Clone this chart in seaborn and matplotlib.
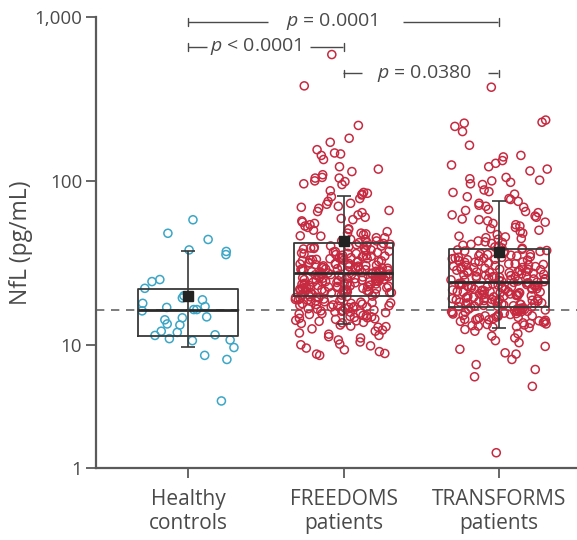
import numpy as np
import pandas as pd
import matplotlib
matplotlib.use("Agg")
import matplotlib.pyplot as plt
import matplotlib.ticker as mticker
import seaborn as sns

# ---------------- data ----------------
groups = ["Healthy controls", "FREEDOMS patients", "TRANSFORMS patients"]
tick_labels = ["Healthy\ncontrols", "FREEDOMS\npatients", "TRANSFORMS\npatients"]

healthy = [57.9, 43.9, 47.9, 37.9, 35.5, 37.1, 24.3, 25.0, 22.1, 19.3, 17.9, 19.9,
           18.8, 16.9, 17.1, 16.4, 16.1, 16.4, 14.2, 13.2, 13.4, 14.8, 14.6, 11.4,
           10.6, 11.5, 10.9, 12.1, 11.9, 10.7, 9.5, 8.2, 7.6, 3.5]

freedoms = [590, 380, 218, 182, 172, 155, 148, 146, 143, 135, 122, 118, 114, 109,
            105, 104, 104, 100, 99, 96, 95,
            87, 85, 84, 83, 82, 80, 78, 75, 73, 72, 70, 69,
            68, 66, 65, 64, 62, 60, 59, 58, 57, 56, 55, 54, 53, 52,
            51, 50, 49, 48, 48, 47, 46, 45, 45, 44, 43, 43, 42, 42,
            41.5, 40.8, 40.1, 39.6, 39.4, 38.7, 38.1, 37.9, 37.2, 36.6, 36.1, 35.9,
            35.2, 34.8, 34.7, 34.1, 33.8, 33.2, 33.0, 32.6, 32.5, 31.9, 31.7, 31.3,
            31.1, 30.9, 30.4, 30.2, 30.0, 29.8, 29.7, 29.3, 29.1, 28.9, 28.8, 28.5,
            28.4, 28.2, 28.1, 27.9, 27.8, 27.6, 27.5, 27.4, 36.3, 32.2, 29.5, 40.4,
            38.9, 34.4, 30.6, 28.7, 33.5, 37.5, 31.5, 29.0, 35.5, 27.7, 32.9, 28.3,
            27.2, 27.0, 26.8, 26.7, 26.5, 26.3, 26.1, 25.9, 25.8, 25.5, 25.4, 25.2,
            25.0, 24.9, 24.7, 24.5, 24.3, 24.2, 24.0, 23.8, 23.7, 23.5, 23.3, 23.1,
            23.0, 22.8, 22.6, 22.5, 22.3, 22.1, 21.9, 21.8, 21.6, 21.4, 21.3, 21.1,
            20.9, 20.8, 20.6, 20.5, 20.3, 20.1, 20.0, 26.0, 24.6, 23.4, 22.0, 21.0,
            25.6, 24.1, 22.7, 21.5, 26.9, 23.9, 20.7, 25.3, 22.4, 21.7,
            19.8, 19.6, 19.5, 19.3, 19.1, 18.9, 18.8, 18.6, 18.4, 18.2, 18.1, 17.9,
            17.7, 17.5, 17.4, 17.2, 17.0, 16.8, 16.6, 16.5, 16.3, 16.1, 15.9, 15.7,
            15.5, 15.3, 15.1, 14.9, 14.7, 14.5, 14.3, 14.1, 13.9, 13.7, 13.5, 19.0,
            18.0, 17.3, 16.0, 15.0, 14.0,
            13.2, 12.8, 12.5, 12.1, 11.8, 11.4, 11.0, 10.7, 10.4, 10.1, 9.8, 9.4,
            9.1, 8.8, 8.5, 8.4, 8.2, 12.3, 11.2, 10.0,
            # dense core (overlapping circles inside and just around the box)
            39.1, 37.0, 35.0, 33.9, 32.8, 31.0, 30.3, 29.4, 28.6, 27.3, 26.4, 25.7,
            25.1, 24.4, 23.6, 22.9, 22.2, 21.2, 20.4, 19.7, 18.7, 17.8, 17.1, 16.2,
            15.6, 14.8, 41.0, 38.4, 36.0, 34.0, 32.4, 30.7, 29.9, 28.0, 26.6, 25.4,
            24.8, 23.2, 22.4, 21.5, 20.2, 19.4, 18.5, 17.6, 16.7, 15.8, 14.4, 13.6,
            40.0, 36.8, 33.6, 31.4, 29.2, 27.1, 26.2, 24.2, 23.0, 21.6, 20.8, 19.2,
            18.3, 17.0, 15.4, 14.6, 44.0, 47.5, 50.5, 12.9, 11.6, 13.0, 46.2, 16.9]

transforms = [373, 235, 228, 225, 215, 200, 165, 143, 140, 133, 128, 125, 122, 118,
              115, 105, 103, 101, 100, 98, 96, 95,
              88, 86, 85, 83, 80, 78, 77,
              75, 73, 71, 69, 67, 66, 64, 62, 60, 58, 57, 56,
              55, 53, 51, 50, 49, 47, 46, 45, 44, 43, 42, 41, 40, 39,
              54, 48, 44.5, 41.5, 39.5, 61, 70,
              38.2, 37.6, 37.1, 36.4, 35.9, 35.2, 34.8, 34.1, 33.7, 33.2, 32.6, 32.3,
              31.8, 31.2, 30.9, 30.5, 30.1, 29.6, 29.3, 28.9, 28.5, 28.2, 27.9, 27.5,
              27.3, 26.9, 26.6, 26.4, 26.1, 25.8, 25.5, 25.3, 25.0, 24.8, 24.5, 24.3,
              24.1, 36.8, 33.5, 30.7, 28.7, 27.1, 25.9, 35.5, 32.0, 29.0, 26.3, 24.7,
              37.9, 34.4, 31.5, 29.8, 27.7, 25.2, 33.0, 28.0,
              23.9, 23.7, 23.5, 23.3, 23.1, 22.9, 22.7, 22.5, 22.3, 22.1, 21.9, 21.7,
              21.5, 21.3, 21.1, 20.9, 20.7, 20.5, 20.3, 20.1, 19.9, 19.7, 19.5, 19.3,
              19.1, 18.9, 18.7, 18.5, 18.3, 18.1, 17.9, 17.7, 17.5, 17.3, 17.1, 17.0,
              23.6, 22.2, 21.0, 19.8, 18.6, 17.6, 22.8, 20.4, 18.8, 23.0, 21.6, 20.0,
              19.0, 17.8, 22.4, 20.6, 18.0, 17.2, 21.2, 19.4, 23.4, 18.4,
              16.8, 16.6, 16.4, 16.2, 16.0, 15.8, 15.6, 15.4, 15.2, 15.0, 14.8, 14.6,
              14.4, 14.2, 14.0, 13.8, 13.6, 13.4, 13.2, 13.0, 12.8, 16.7, 16.1, 15.5,
              14.9, 14.3, 13.7, 13.1, 16.3, 15.1, 14.1, 13.3, 12.7, 15.9, 14.5,
              12.1, 11.7, 11.0, 10.6, 10.3, 9.7, 9.2, 8.6, 8.4, 7.6, 6.9, 6.3, 5.5,
              4.6, 1.33,
              # dense core (overlapping circles inside and just around the box)
              37.3, 35.7, 34.2, 32.9, 31.1, 30.0, 28.8, 27.6, 26.7, 25.6, 24.9, 24.0,
              23.2, 22.6, 21.8, 21.1, 20.2, 19.6, 18.9, 18.2, 17.4, 16.9, 16.4, 15.7,
              15.3, 14.7, 36.1, 33.8, 31.9, 29.5, 27.8, 26.2, 25.1, 23.8, 22.0, 20.8,
              19.2, 18.0, 17.2, 16.5, 15.9, 14.2, 13.5, 38.8, 34.9, 30.4, 28.3, 26.0,
              24.4, 22.9, 21.4, 20.0, 18.6, 17.7, 16.0, 15.0, 13.9, 12.9, 42.5, 45.5,
              40.5, 12.4, 11.3, 52.0, 58.5, 65.0]

# box statistics: q1, median, q3, lower/upper whisker, mean
box_q1 = [11.3, 19.9, 16.9]
box_med = [16.3, 27.3, 24.0]
box_q3 = [21.9, 41.9, 38.5]
whisk_lo = [9.6, 13.4, 12.6]
whisk_hi = [37.4, 80.7, 75.3]
means = [19.9, 42.7, 37.0]
reference_level = 16.3

comparisons = [(0, 2, "$p$ = 0.0001"), (0, 1, "$p$ < 0.0001"), (1, 2, "$p$ = 0.0380")]
bracket_y = [936, 658, 453]

# ---------------- style ----------------
sns.set_style("white")
plt.rcParams["font.family"] = ["Open Sans", "DejaVu Sans"]
plt.rcParams["mathtext.fontset"] = "custom"
plt.rcParams["mathtext.it"] = "Open Sans:italic"
plt.rcParams["mathtext.rm"] = "Open Sans"

TXT = "#4a4a4a"
AX = "#5a5a5a"
BLUE = "#3ba6c6"
RED = "#c62a40"

K = 0.752  # compression of the lowest decade as drawn in the original


def fwd(v):
    v = np.clip(np.asarray(v, dtype=float), 1e-3, None)
    lg = np.log10(v)
    return np.where(lg >= 1, lg, 1 - (1 - lg) * K)


def inv(u):
    u = np.asarray(u, dtype=float)
    return np.where(u >= 1, 10.0 ** u, 10.0 ** (1 - (1 - u) / K))


df = pd.DataFrame({
    "group": [groups[0]] * len(healthy) + [groups[1]] * len(freedoms) + [groups[2]] * len(transforms),
    "nfl": healthy + freedoms + transforms,
})

fig = plt.figure(figsize=(5.77, 5.40), dpi=100)
ax = fig.add_axes([96 / 577, 72 / 540, 481 / 577, 451 / 540])

np.random.seed(3)
sns.stripplot(data=df, x="group", y="nfl", hue="group", order=groups, hue_order=groups,
              palette=[BLUE, RED, RED], jitter=0.31, size=5.8, legend=False, ax=ax,
              zorder=2)
for coll in ax.collections:
    fc = coll.get_facecolors()
    coll.set_edgecolors(fc)
    coll.set_facecolors("none")
    coll.set_linewidth(1.1)

ax.set_yscale("function", functions=(fwd, inv))

stats = []
for i in range(3):
    stats.append(dict(med=box_med[i], q1=box_q1[i], q3=box_q3[i],
                      whislo=box_q1[i], whishi=box_q3[i], fliers=[], label=groups[i]))
ax.bxp(stats, positions=[0, 1, 2], widths=0.64, showcaps=False, showfliers=False,
       manage_ticks=False,
       boxprops=dict(color="#383838", lw=1.3, zorder=3),
       medianprops=dict(color="#2a2a2a", lw=2.0, zorder=3),
       whiskerprops=dict(lw=0))

means_a = np.array(means)
ax.errorbar([0, 1, 2], means_a,
            yerr=[means_a - np.array(whisk_lo), np.array(whisk_hi) - means_a],
            fmt="s", color="#222222", ecolor="#383838", ms=7, elinewidth=1.2,
            capsize=5, capthick=1.2, zorder=4)

ax.axhline(reference_level, color="#666666", lw=1.2, ls=(0, (5, 4)), zorder=1)

# significance brackets
def px2x(px):
    return (px - 188) / 155.5

segs = [
    [(188, 268), (403, 498)],
    [(188, 207), (310, 343)],
    [(343, 362), (488, 498)],
]
text_cx = [331.5, 256, 424.5]
for (a, b, lab), yv, sg, tc in zip(comparisons, bracket_y, segs, text_cx):
    for s0, s1 in sg:
        ax.plot([px2x(s0), px2x(s1)], [yv, yv], color="#4a4a4a", lw=1.0,
                solid_capstyle="butt", clip_on=False)
    for xx in (a, b):
        ax.plot([xx, xx], [yv / 1.055, yv * 1.055], color="#4a4a4a", lw=1.0, clip_on=False)
    ax.text(px2x(tc), yv, lab, ha="center", va="center", fontsize=14, color=TXT)

ax.set_xlim(-0.592, 2.501)
ax.set_ylim(1, 1000)
ax.set_yticks([1, 10, 100, 1000])
ax.set_yticklabels(["1", "10", "100", "1,000"])
ax.yaxis.set_minor_locator(mticker.NullLocator())
ax.set_xticks([0, 1, 2])
ax.set_xticklabels(tick_labels)

ax.tick_params(axis="y", length=7, width=1.3, color=AX, labelsize=13.5, labelcolor=TXT,
               direction="out", pad=3, left=True)
ax.tick_params(axis="x", length=7, width=1.3, color=AX, labelsize=15, labelcolor=TXT,
               direction="out", pad=8, bottom=True)
ax.set_xlabel("")
ax.set_ylabel("NfL (pg/mL)", fontsize=16.5, color=TXT, labelpad=1)

for side in ("top", "right"):
    ax.spines[side].set_visible(False)
for side in ("left", "bottom"):
    ax.spines[side].set_color(AX)
    ax.spines[side].set_linewidth(1.6)

fig.savefig("out.png", dpi=100, facecolor="white")
